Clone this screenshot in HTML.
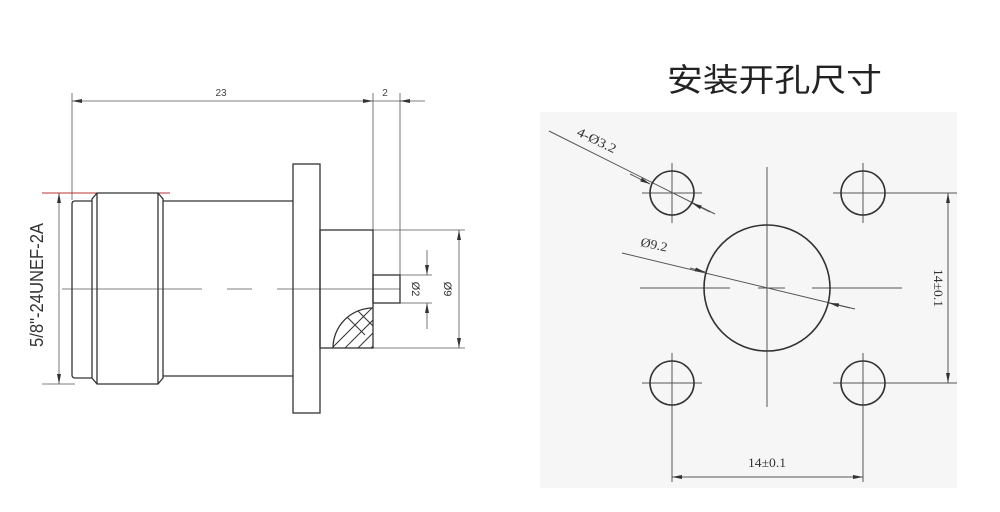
<!DOCTYPE html>
<html><head><meta charset="utf-8"><style>
html,body{margin:0;padding:0;background:#fff;width:1000px;height:512px;overflow:hidden}
svg{display:block}
</style></head><body>
<svg width="1000" height="512" viewBox="0 0 1000 512" xmlns="http://www.w3.org/2000/svg" style="font-family:'Liberation Sans','Noto Sans CJK SC',sans-serif">
<defs>
<marker id="a" markerWidth="10" markerHeight="6" refX="10" refY="3" orient="auto-start-reverse" markerUnits="userSpaceOnUse"><path d="M0,1 L10,3 L0,5 Z" fill="#333"/></marker>
<clipPath id="qc"><path d="M373,308 L373,348 L333,348 A40,40 0 0 1 373,308 Z"/></clipPath>
</defs>
<!-- LEFT DRAWING -->
<g stroke="#555" stroke-width="0.8" fill="none">
<line x1="72" y1="93" x2="72" y2="200"/>
<line x1="373" y1="93" x2="373" y2="230"/>
<line x1="400" y1="93" x2="400" y2="275"/>
<line x1="72" y1="101" x2="373" y2="101" marker-start="url(#a)" marker-end="url(#a)"/>
<line x1="373" y1="101" x2="425" y2="101"/>
<line x1="410" y1="101" x2="400" y2="101" marker-end="url(#a)"/>
<line x1="42" y1="384" x2="75" y2="384"/>
<line x1="59" y1="193" x2="59" y2="384" marker-start="url(#a)" marker-end="url(#a)"/>
<line x1="373" y1="230" x2="465" y2="230"/>
<line x1="373" y1="348" x2="465" y2="348"/>
<line x1="459" y1="230" x2="459" y2="348" marker-start="url(#a)" marker-end="url(#a)"/>
<line x1="400" y1="275" x2="432" y2="275"/>
<line x1="400" y1="303" x2="432" y2="303"/>
<line x1="427" y1="250" x2="427" y2="275" marker-end="url(#a)"/>
<line x1="427" y1="329" x2="427" y2="303" marker-end="url(#a)"/>
<line x1="62" y1="289" x2="400" y2="289" stroke-dasharray="140,25,25,25"/>
</g>
<line x1="42" y1="193" x2="170" y2="193" stroke="#b33" stroke-width="1"/>
<g stroke="#333" stroke-width="1.3" fill="none">
<path d="M92,201 L75,201 Q72,201 72,204 L72,375 Q72,378 75,378 L92,378"/>
<path d="M97,193 L158,193 L163,199 L163,378 L158,384 L97,384 L92,378 L92,199 Z"/>
<line x1="97" y1="193" x2="97" y2="384"/>
<line x1="158" y1="193" x2="158" y2="384"/>
<path d="M163,201 L293,201 M163,376 L293,376"/>
<rect x="293" y="164" width="27" height="249"/>
<rect x="320" y="230" width="53" height="118"/>
<rect x="373" y="275" width="27" height="28"/>
<path d="M373,308 A40,40 0 0 0 333,348"/>
</g>
<g clip-path="url(#qc)" stroke="#333" stroke-width="1" fill="none">
<path d="M335,358 L385,308 M348,358 L398,308 M322,358 L372,308 M361,358 L411,308"/>
<path d="M345,315 L365,335 M355,308 L373,326"/>
</g>
<text transform="translate(43,285) rotate(-90)" text-anchor="middle" font-size="18" textLength="124" lengthAdjust="spacingAndGlyphs" fill="#333">5/8"-24UNEF-2A</text>
<text x="221" y="96" font-size="10" text-anchor="middle" fill="#444">23</text>
<text x="385" y="96" font-size="10" text-anchor="middle" fill="#444">2</text>
<text transform="translate(412,289) rotate(90)" text-anchor="middle" font-size="11" fill="#333">Ø2</text>
<text transform="translate(444,289) rotate(90)" text-anchor="middle" font-size="11" fill="#333">Ø9</text>
<!-- RIGHT DRAWING -->
<text x="667" y="91" font-size="32" textLength="215" lengthAdjust="spacingAndGlyphs" fill="#222">安装开孔尺寸</text>
<rect x="540" y="112" width="417" height="376" fill="#f6f6f6"/>
<g stroke="#555" stroke-width="1" fill="none">
<line x1="767" y1="167" x2="767" y2="407"/>
<path d="M640,288 L730,288 M758,288 L785,288 M812,288 L902,288"/>
<path d="M642,193 L702,193 M672,163 L672,223 M833,193 L893,193 M863,163 L863,223 M642,383 L702,383 M672,353 L672,413 M833,383 L893,383 M863,353 L863,413"/>
<line x1="885" y1="193" x2="957" y2="193"/>
<line x1="885" y1="383" x2="957" y2="383"/>
<line x1="948" y1="193" x2="948" y2="383" marker-start="url(#a)" marker-end="url(#a)"/>
<line x1="672" y1="405" x2="672" y2="482"/>
<line x1="863" y1="405" x2="863" y2="482"/>
<line x1="672" y1="477" x2="863" y2="477" marker-start="url(#a)" marker-end="url(#a)"/>
<line x1="549" y1="131" x2="715" y2="214"/>
<line x1="622" y1="253" x2="855" y2="309"/>
<line x1="630" y1="174" x2="650" y2="184" marker-end="url(#a)"/>
<line x1="710" y1="212" x2="692" y2="203" marker-end="url(#a)"/>
<line x1="690" y1="268" x2="705" y2="272" marker-end="url(#a)"/>
<line x1="850" y1="308" x2="829" y2="303" marker-end="url(#a)"/>
</g>
<g stroke="#333" stroke-width="1.6" fill="none">
<circle cx="672" cy="193" r="22"/>
<circle cx="863" cy="193" r="22"/>
<circle cx="672" cy="383" r="22"/>
<circle cx="863" cy="383" r="22"/>
<circle cx="767" cy="288" r="63"/>
</g>
<g style="font-family:'Liberation Serif',serif" fill="#333" font-size="13">
<text transform="translate(576,135) rotate(26)" textLength="42" lengthAdjust="spacingAndGlyphs">4-Ø3.2</text>
<text transform="translate(640,246) rotate(12)" textLength="27" lengthAdjust="spacingAndGlyphs">Ø9.2</text>
<text transform="translate(934,288) rotate(90)" text-anchor="middle" textLength="38" lengthAdjust="spacingAndGlyphs">14±0.1</text>
<text x="767" y="467" text-anchor="middle" textLength="38" lengthAdjust="spacingAndGlyphs">14±0.1</text>
</g>
</svg>
</body></html>
